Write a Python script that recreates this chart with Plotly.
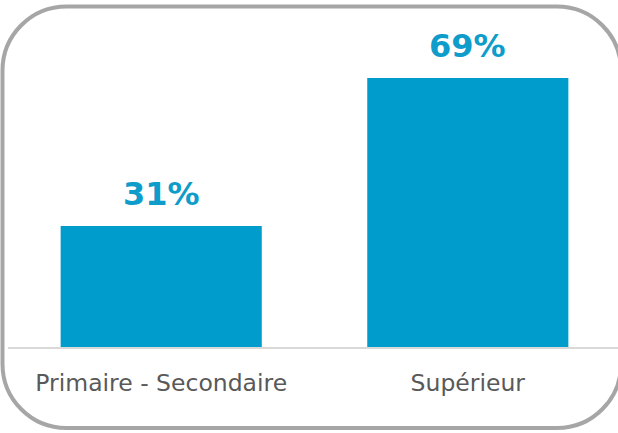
import plotly.graph_objects as go

categories = ["Primaire - Secondaire", "Supérieur"]
values = [31, 69]
value_labels = ["31%", "69%"]

W, H = 618, 433
ML, MR, MT, MB = 8, 0, 20, 86
PW, PH = W - ML - MR, H - MT - MB

BAR_COLOR = "#009DCC"
LABEL_COLOR = "#0E9CCB"
TEXT_COLOR = "#595959"

fig = go.Figure()
fig.add_trace(go.Bar(
    x=categories, y=values, width=0.656,
    marker=dict(color=BAR_COLOR, line=dict(width=0)),
    hoverinfo="skip",
))

for c, v, t in zip(categories, values, value_labels):
    fig.add_annotation(
        x=c, y=v, text="<b>%s</b>" % t, showarrow=False,
        yanchor="bottom", yshift=11,
        font=dict(family="DejaVu Sans", size=32, color=LABEL_COLOR),
    )

# rounded frame (pixel coordinates converted to paper)
def px(x):
    return (x - ML) / PW

def py(y):
    return 1 - (y - MT) / PH

x0, y0, x1, y1, R = 2.5, 6.5, 621, 428, 64
k = 0.5523 * R
segs = [
    ("M", [(x0 + R, y0)]),
    ("L", [(x1 - R, y0)]),
    ("C", [(x1 - R + k, y0), (x1, y0 + R - k), (x1, y0 + R)]),
    ("L", [(x1, y1 - R)]),
    ("C", [(x1, y1 - R + k), (x1 - R + k, y1), (x1 - R, y1)]),
    ("L", [(x0 + R, y1)]),
    ("C", [(x0 + R - k, y1), (x0, y1 - R + k), (x0, y1 - R)]),
    ("L", [(x0, y0 + R)]),
    ("C", [(x0, y0 + R - k), (x0 + R - k, y0), (x0 + R, y0)]),
]
path = ""
for cmd, pts in segs:
    path += cmd + " " + " ".join("%.5f,%.5f" % (px(a), py(b)) for a, b in pts) + " "
path += "Z"
fig.add_shape(type="path", path=path, xref="paper", yref="paper",
              line=dict(color="#A6A6A6", width=4), fillcolor="rgba(0,0,0,0)", layer="above")

fig.update_layout(
    width=W, height=H,
    margin=dict(l=ML, r=MR, t=MT, b=MB),
    paper_bgcolor="white", plot_bgcolor="white",
    showlegend=False,
    font=dict(family="DejaVu Sans", color=TEXT_COLOR),
)
fig.update_xaxes(
    type="category", range=[-0.4997, 1.4899],
    showline=True, linecolor="#D9D9D9", linewidth=1.5,
    showgrid=False, ticks="", tickfont=dict(size=23.5, color=TEXT_COLOR, family="DejaVu Sans"),
    ticklabelstandoff=14,
)
fig.update_yaxes(range=[0, 327 / 3.9], visible=False, showgrid=False)

fig.write_html("out.html", config={"displayModeBar": False},
               post_script="document.body.style.margin='0';document.body.style.overflow='hidden';")
